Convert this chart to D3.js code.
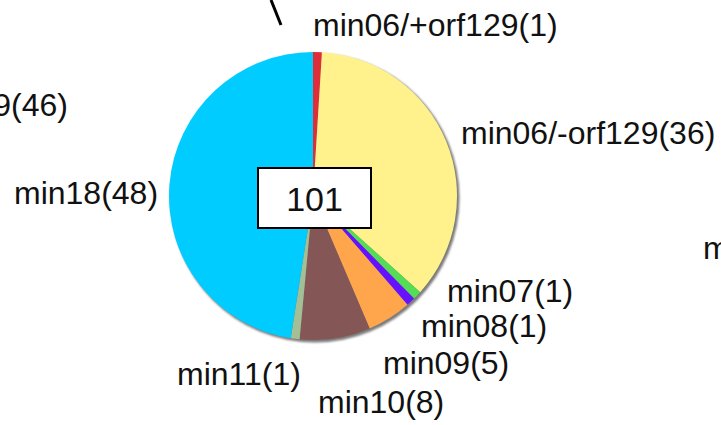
<!DOCTYPE html>
<html>
<head>
<meta charset="utf-8">
<script src="https://cdn.jsdelivr.net/npm/d3@7/dist/d3.min.js"></script>
<style>
  html, body { margin: 0; padding: 0; background: #fff; }
  svg { display: block; }
  text { font-family: "Liberation Sans", Arial, sans-serif; }
</style>
</head>
<body>
<script>
// ---- data ----
const categories = ["min06/+orf129", "min06/-orf129", "min07", "min08", "min09", "min10", "min11", "min18"];
const values = [1, 36, 1, 1, 5, 8, 1, 48];
const colors = ["#DD2E3A", "#FFF28C", "#55DD55", "#6611FF", "#FFA64C", "#855656", "#A3BF95", "#00CCFF"];
// label anchor positions (layout, start-anchored, baseline)
const labelPos = [[313, 36], [461, 144], [447, 302], [421, 337], [383, 374], [318, 413], [177, 385], [14, 204]];

const W = 721, H = 425;
const cx = 313, cy = 196, R = 144;
const total = d3.sum(values);
const FS = 32;

const svg = d3.select("body").append("svg").attr("width", W).attr("height", H);

const defs = svg.append("defs");
defs.append("filter").attr("id", "blur").append("feGaussianBlur").attr("stdDeviation", 1);

// fragments of neighbouring charts
svg.append("line").attr("x1", 271).attr("y1", 0).attr("x2", 281).attr("y2", 25)
  .attr("stroke", "#000").attr("stroke-width", 3);
svg.append("text").attr("x", 68).attr("y", 116).attr("text-anchor", "end")
  .attr("font-size", FS).attr("fill", "#111").text("9(46)");
svg.append("text").attr("x", 703).attr("y", 259)
  .attr("font-size", FS).attr("fill", "#111").text("m");

const g = svg.append("g").attr("transform", `translate(${cx},${cy})`);

// shadow
g.append("circle").attr("cx", 2).attr("cy", 2).attr("r", R + 0.5)
  .attr("fill", "#7a7a7a").attr("filter", "url(#blur)");

const pie = d3.pie().sort(null).value(d => d);
const arc = d3.arc().innerRadius(0).outerRadius(R);
const arcs = pie(values);

g.selectAll("path.slice").data(arcs).join("path")
  .attr("class", "slice")
  .attr("d", arc)
  .attr("fill", (d, i) => colors[i]);

// labels
svg.selectAll("text.lbl").data(arcs).join("text")
  .attr("class", "lbl")
  .attr("x", (d, i) => labelPos[i][0])
  .attr("y", (d, i) => labelPos[i][1])
  .attr("font-size", FS)
  .attr("fill", "#111")
  .text((d, i) => `${categories[i]}(${values[i]})`);

// center total box
const bw = 113, bh = 60;
svg.append("rect").attr("x", 258).attr("y", 168).attr("width", bw).attr("height", bh)
  .attr("fill", "#fff").attr("stroke", "#000").attr("stroke-width", 2);
svg.append("text").attr("x", 258 + bw / 2).attr("y", 168 + bh / 2 + 1)
  .attr("text-anchor", "middle").attr("dominant-baseline", "central")
  .attr("font-size", 34).attr("fill", "#111").text(total);
</script>
</body>
</html>
